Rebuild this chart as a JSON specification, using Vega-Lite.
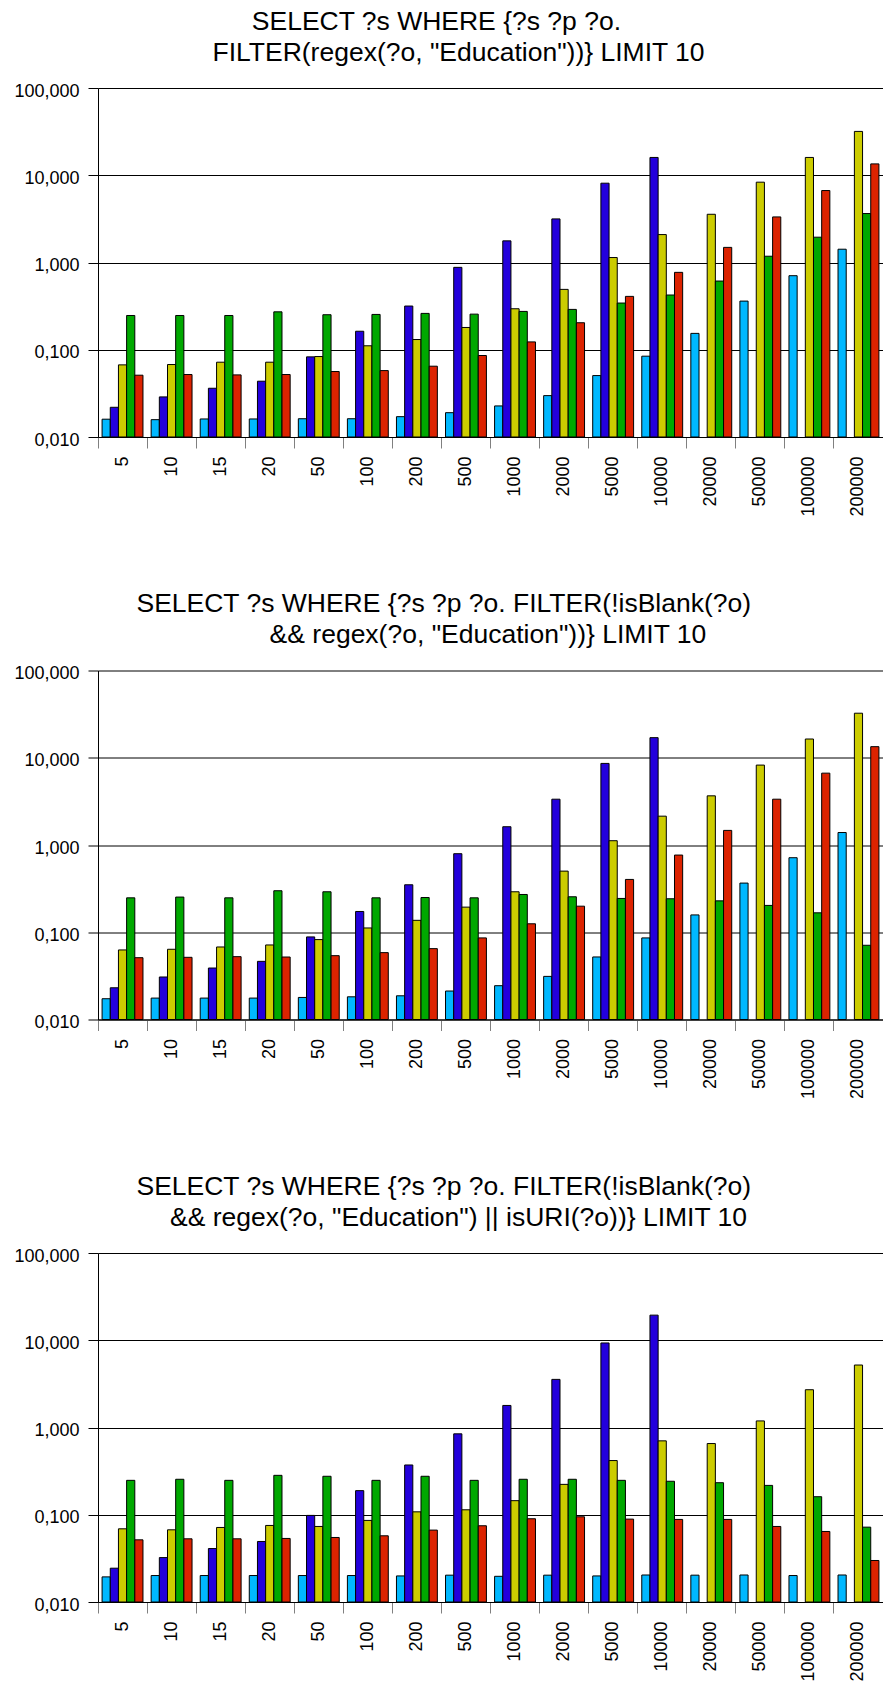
{
  "$schema": "https://vega.github.io/schema/vega-lite/v6.json",
  "padding": {"left": 13, "top": 8, "right": 0, "bottom": 0},
  "background": "white",
  "config": {"view": {"stroke": null}, "font": "Liberation Sans", "title": {"fontSize": 26.5, "fontWeight": "normal", "font": "Liberation Sans", "color": "#000", "anchor": "middle", "frame": "group", "lineHeight": 31, "offset": 16, "dx": -32}},
  "data": {"values": [
    {"p":1,"c":"5","s":"a","v":0.0160},{"p":1,"c":"5","s":"b","v":0.0219},{"p":1,"c":"5","s":"c","v":0.0671},{"p":1,"c":"5","s":"d","v":0.247},{"p":1,"c":"5","s":"e","v":0.0511},
    {"p":1,"c":"10","s":"a","v":0.0158},{"p":1,"c":"10","s":"b","v":0.0288},{"p":1,"c":"10","s":"c","v":0.0677},{"p":1,"c":"10","s":"d","v":0.247},{"p":1,"c":"10","s":"e","v":0.0520},
    {"p":1,"c":"15","s":"a","v":0.0161},{"p":1,"c":"15","s":"b","v":0.0362},{"p":1,"c":"15","s":"c","v":0.0720},{"p":1,"c":"15","s":"d","v":0.247},{"p":1,"c":"15","s":"e","v":0.0515},
    {"p":1,"c":"20","s":"a","v":0.0161},{"p":1,"c":"20","s":"b","v":0.0436},{"p":1,"c":"20","s":"c","v":0.0720},{"p":1,"c":"20","s":"d","v":0.272},{"p":1,"c":"20","s":"e","v":0.0520},
    {"p":1,"c":"50","s":"a","v":0.0162},{"p":1,"c":"50","s":"b","v":0.0829},{"p":1,"c":"50","s":"c","v":0.0836},{"p":1,"c":"50","s":"d","v":0.252},{"p":1,"c":"50","s":"e","v":0.0563},
    {"p":1,"c":"100","s":"a","v":0.0162},{"p":1,"c":"100","s":"b","v":0.163},{"p":1,"c":"100","s":"c","v":0.111},{"p":1,"c":"100","s":"d","v":0.254},{"p":1,"c":"100","s":"e","v":0.0577},
    {"p":1,"c":"200","s":"a","v":0.0171},{"p":1,"c":"200","s":"b","v":0.317},{"p":1,"c":"200","s":"c","v":0.131},{"p":1,"c":"200","s":"d","v":0.261},{"p":1,"c":"200","s":"e","v":0.0648},
    {"p":1,"c":"500","s":"a","v":0.0190},{"p":1,"c":"500","s":"b","v":0.880},{"p":1,"c":"500","s":"c","v":0.180},{"p":1,"c":"500","s":"d","v":0.256},{"p":1,"c":"500","s":"e","v":0.0859},
    {"p":1,"c":"1000","s":"a","v":0.0227},{"p":1,"c":"1000","s":"b","v":1.77},{"p":1,"c":"1000","s":"c","v":0.295},{"p":1,"c":"1000","s":"d","v":0.275},{"p":1,"c":"1000","s":"e","v":0.123},
    {"p":1,"c":"2000","s":"a","v":0.0298},{"p":1,"c":"2000","s":"b","v":3.16},{"p":1,"c":"2000","s":"c","v":0.492},{"p":1,"c":"2000","s":"d","v":0.290},{"p":1,"c":"2000","s":"e","v":0.204},
    {"p":1,"c":"5000","s":"a","v":0.0506},{"p":1,"c":"5000","s":"b","v":8.11},{"p":1,"c":"5000","s":"c","v":1.14},{"p":1,"c":"5000","s":"d","v":0.343},{"p":1,"c":"5000","s":"e","v":0.409},
    {"p":1,"c":"10000","s":"a","v":0.0844},{"p":1,"c":"10000","s":"b","v":16.0},{"p":1,"c":"10000","s":"c","v":2.09},{"p":1,"c":"10000","s":"d","v":0.424},{"p":1,"c":"10000","s":"e","v":0.771},
    {"p":1,"c":"20000","s":"a","v":0.154},{"p":1,"c":"20000","s":"c","v":3.57},{"p":1,"c":"20000","s":"d","v":0.613},{"p":1,"c":"20000","s":"e","v":1.49},
    {"p":1,"c":"50000","s":"a","v":0.361},{"p":1,"c":"50000","s":"c","v":8.33},{"p":1,"c":"50000","s":"d","v":1.18},{"p":1,"c":"50000","s":"e","v":3.33},
    {"p":1,"c":"100000","s":"a","v":0.706},{"p":1,"c":"100000","s":"c","v":16.0},{"p":1,"c":"100000","s":"d","v":1.95},{"p":1,"c":"100000","s":"e","v":6.68},
    {"p":1,"c":"200000","s":"a","v":1.42},{"p":1,"c":"200000","s":"c","v":31.8},{"p":1,"c":"200000","s":"d","v":3.64},{"p":1,"c":"200000","s":"e","v":13.5},

    {"p":2,"c":"5","s":"a","v":0.0173},{"p":2,"c":"5","s":"b","v":0.0231},{"p":2,"c":"5","s":"c","v":0.0627},{"p":2,"c":"5","s":"d","v":0.248},{"p":2,"c":"5","s":"e","v":0.0511},
    {"p":2,"c":"10","s":"a","v":0.0176},{"p":2,"c":"10","s":"b","v":0.0307},{"p":2,"c":"10","s":"c","v":0.0638},{"p":2,"c":"10","s":"d","v":0.253},{"p":2,"c":"10","s":"e","v":0.0516},
    {"p":2,"c":"15","s":"a","v":0.0176},{"p":2,"c":"15","s":"b","v":0.0389},{"p":2,"c":"15","s":"c","v":0.0678},{"p":2,"c":"15","s":"d","v":0.248},{"p":2,"c":"15","s":"e","v":0.0525},
    {"p":2,"c":"20","s":"a","v":0.0176},{"p":2,"c":"20","s":"b","v":0.0464},{"p":2,"c":"20","s":"c","v":0.0715},{"p":2,"c":"20","s":"d","v":0.299},{"p":2,"c":"20","s":"e","v":0.0520},
    {"p":2,"c":"50","s":"a","v":0.0179},{"p":2,"c":"50","s":"b","v":0.0884},{"p":2,"c":"50","s":"c","v":0.0824},{"p":2,"c":"50","s":"d","v":0.291},{"p":2,"c":"50","s":"e","v":0.0539},
    {"p":2,"c":"100","s":"a","v":0.0182},{"p":2,"c":"100","s":"b","v":0.173},{"p":2,"c":"100","s":"c","v":0.112},{"p":2,"c":"100","s":"d","v":0.248},{"p":2,"c":"100","s":"e","v":0.0584},
    {"p":2,"c":"200","s":"a","v":0.0187},{"p":2,"c":"200","s":"b","v":0.350},{"p":2,"c":"200","s":"c","v":0.137},{"p":2,"c":"200","s":"d","v":0.250},{"p":2,"c":"200","s":"e","v":0.0649},
    {"p":2,"c":"500","s":"a","v":0.0212},{"p":2,"c":"500","s":"b","v":0.795},{"p":2,"c":"500","s":"c","v":0.194},{"p":2,"c":"500","s":"d","v":0.248},{"p":2,"c":"500","s":"e","v":0.0861},
    {"p":2,"c":"1000","s":"a","v":0.0244},{"p":2,"c":"1000","s":"b","v":1.62},{"p":2,"c":"1000","s":"c","v":0.291},{"p":2,"c":"1000","s":"d","v":0.271},{"p":2,"c":"1000","s":"e","v":0.125},
    {"p":2,"c":"2000","s":"a","v":0.0312},{"p":2,"c":"2000","s":"b","v":3.35},{"p":2,"c":"2000","s":"c","v":0.502},{"p":2,"c":"2000","s":"d","v":0.255},{"p":2,"c":"2000","s":"e","v":0.199},
    {"p":2,"c":"5000","s":"a","v":0.0521},{"p":2,"c":"5000","s":"b","v":8.61},{"p":2,"c":"5000","s":"c","v":1.12},{"p":2,"c":"5000","s":"d","v":0.244},{"p":2,"c":"5000","s":"e","v":0.403},
    {"p":2,"c":"10000","s":"a","v":0.0861},{"p":2,"c":"10000","s":"b","v":17.0},{"p":2,"c":"10000","s":"c","v":2.14},{"p":2,"c":"10000","s":"d","v":0.242},{"p":2,"c":"10000","s":"e","v":0.767},
    {"p":2,"c":"20000","s":"a","v":0.158},{"p":2,"c":"20000","s":"c","v":3.66},{"p":2,"c":"20000","s":"d","v":0.229},{"p":2,"c":"20000","s":"e","v":1.47},
    {"p":2,"c":"50000","s":"a","v":0.366},{"p":2,"c":"50000","s":"c","v":8.24},{"p":2,"c":"50000","s":"d","v":0.203},{"p":2,"c":"50000","s":"e","v":3.35},
    {"p":2,"c":"100000","s":"a","v":0.715},{"p":2,"c":"100000","s":"c","v":16.4},{"p":2,"c":"100000","s":"d","v":0.167},{"p":2,"c":"100000","s":"e","v":6.66},
    {"p":2,"c":"200000","s":"a","v":1.39},{"p":2,"c":"200000","s":"c","v":32.4},{"p":2,"c":"200000","s":"d","v":0.0709},{"p":2,"c":"200000","s":"e","v":13.4},

    {"p":3,"c":"5","s":"a","v":0.0194},{"p":3,"c":"5","s":"b","v":0.0244},{"p":3,"c":"5","s":"c","v":0.0690},{"p":3,"c":"5","s":"d","v":0.248},{"p":3,"c":"5","s":"e","v":0.0516},
    {"p":3,"c":"10","s":"a","v":0.0201},{"p":3,"c":"10","s":"b","v":0.0323},{"p":3,"c":"10","s":"c","v":0.0672},{"p":3,"c":"10","s":"d","v":0.255},{"p":3,"c":"10","s":"e","v":0.0530},
    {"p":3,"c":"15","s":"a","v":0.0201},{"p":3,"c":"15","s":"b","v":0.0410},{"p":3,"c":"15","s":"c","v":0.0715},{"p":3,"c":"15","s":"d","v":0.248},{"p":3,"c":"15","s":"e","v":0.0530},
    {"p":3,"c":"20","s":"a","v":0.0201},{"p":3,"c":"20","s":"b","v":0.0494},{"p":3,"c":"20","s":"c","v":0.0754},{"p":3,"c":"20","s":"d","v":0.283},{"p":3,"c":"20","s":"e","v":0.0535},
    {"p":3,"c":"50","s":"a","v":0.0201},{"p":3,"c":"50","s":"b","v":0.0983},{"p":3,"c":"50","s":"c","v":0.0734},{"p":3,"c":"50","s":"d","v":0.276},{"p":3,"c":"50","s":"e","v":0.0549},
    {"p":3,"c":"100","s":"a","v":0.0201},{"p":3,"c":"100","s":"b","v":0.189},{"p":3,"c":"100","s":"c","v":0.0861},{"p":3,"c":"100","s":"d","v":0.248},{"p":3,"c":"100","s":"e","v":0.0574},
    {"p":3,"c":"200","s":"a","v":0.0199},{"p":3,"c":"200","s":"b","v":0.372},{"p":3,"c":"200","s":"c","v":0.108},{"p":3,"c":"200","s":"d","v":0.276},{"p":3,"c":"200","s":"e","v":0.0667},
    {"p":3,"c":"500","s":"a","v":0.0203},{"p":3,"c":"500","s":"b","v":0.846},{"p":3,"c":"500","s":"c","v":0.114},{"p":3,"c":"500","s":"d","v":0.248},{"p":3,"c":"500","s":"e","v":0.0748},
    {"p":3,"c":"1000","s":"a","v":0.0197},{"p":3,"c":"1000","s":"b","v":1.79},{"p":3,"c":"1000","s":"c","v":0.145},{"p":3,"c":"1000","s":"d","v":0.255},{"p":3,"c":"1000","s":"e","v":0.0900},
    {"p":3,"c":"2000","s":"a","v":0.0203},{"p":3,"c":"2000","s":"b","v":3.56},{"p":3,"c":"2000","s":"c","v":0.223},{"p":3,"c":"2000","s":"d","v":0.255},{"p":3,"c":"2000","s":"e","v":0.0948},
    {"p":3,"c":"5000","s":"a","v":0.0199},{"p":3,"c":"5000","s":"b","v":9.31},{"p":3,"c":"5000","s":"c","v":0.418},{"p":3,"c":"5000","s":"d","v":0.248},{"p":3,"c":"5000","s":"e","v":0.0891},
    {"p":3,"c":"10000","s":"a","v":0.0204},{"p":3,"c":"10000","s":"b","v":19.4},{"p":3,"c":"10000","s":"c","v":0.703},{"p":3,"c":"10000","s":"d","v":0.242},{"p":3,"c":"10000","s":"e","v":0.0884},
    {"p":3,"c":"20000","s":"a","v":0.0203},{"p":3,"c":"20000","s":"c","v":0.655},{"p":3,"c":"20000","s":"d","v":0.233},{"p":3,"c":"20000","s":"e","v":0.0884},
    {"p":3,"c":"50000","s":"a","v":0.0204},{"p":3,"c":"50000","s":"c","v":1.19},{"p":3,"c":"50000","s":"d","v":0.217},{"p":3,"c":"50000","s":"e","v":0.0734},
    {"p":3,"c":"100000","s":"a","v":0.0201},{"p":3,"c":"100000","s":"c","v":2.71},{"p":3,"c":"100000","s":"d","v":0.161},{"p":3,"c":"100000","s":"e","v":0.0643},
    {"p":3,"c":"200000","s":"a","v":0.0204},{"p":3,"c":"200000","s":"c","v":5.20},{"p":3,"c":"200000","s":"d","v":0.0721},{"p":3,"c":"200000","s":"e","v":0.0299}
  ]},
  "spacing": 233.5,
  "bounds": "flush",
  "vconcat": [
    {
      "title": {"text": ["SELECT ?s WHERE {?s ?p ?o.\u00a0\u00a0\u00a0\u00a0\u00a0\u00a0\u200b", "FILTER(regex(?o, \"Education\"))} LIMIT 10"]},
      "width": 785, "height": 349,
      "transform": [{"filter": "datum.p == 1"}],
      "mark": {"type": "bar", "stroke": "#000", "strokeWidth": 1},
      "encoding": {
        "x": {"field": "c", "type": "nominal", "sort": ["5","10","15","20","50","100","200","500","1000","2000","5000","10000","20000","50000","100000","200000"], "scale": {"paddingInner": 0, "paddingOuter": 0}, "axis": {"title": null, "bandPosition": 0, "labelAngle": -90, "labelAlign": "right", "labelBaseline": "middle", "labelFontSize": 18, "labelColor": "#000", "labelPadding": 8, "tickSize": 11, "tickColor": "#808080", "domainColor": "#000", "grid": false}},
        "xOffset": {"field": "s", "type": "nominal", "sort": ["a","b","c","d","e"], "scale": {"paddingInner": 0, "paddingOuter": 0.5}},
        "y": {"field": "v", "type": "quantitative", "scale": {"type": "log", "domain": [0.01, 100], "nice": false}, "axis": {"title": null, "values": [0.01, 0.1, 1, 10, 100], "labelExpr": "replace(format(datum.value, '.3f'), '.', ',')", "labelFontSize": 18, "labelColor": "#000", "labelPadding": 9, "labelOffset": 3, "tickSize": 10, "tickColor": "#000", "domainColor": "#000", "grid": true, "gridColor": "#000", "gridOpacity": 1}},
        "y2": {"datum": 0.01},
        "color": {"field": "s", "type": "nominal", "scale": {"domain": ["a","b","c","d","e"], "range": ["#00b8ff","#2300dc","#cccc00","#00a800","#dc2300"]}, "legend": null}
      }
    },
    {
      "title": {"text": ["SELECT ?s WHERE {?s ?p ?o. FILTER(!isBlank(?o)\u00a0\u00a0\u00a0\u00a0\u200b", "\u200b\u00a0\u00a0\u00a0\u00a0\u00a0\u00a0\u00a0\u00a0&& regex(?o, \"Education\"))} LIMIT 10"]},
      "width": 785, "height": 349,
      "transform": [{"filter": "datum.p == 2"}],
      "mark": {"type": "bar", "stroke": "#000", "strokeWidth": 1},
      "encoding": {
        "x": {"field": "c", "type": "nominal", "sort": ["5","10","15","20","50","100","200","500","1000","2000","5000","10000","20000","50000","100000","200000"], "scale": {"paddingInner": 0, "paddingOuter": 0}, "axis": {"title": null, "bandPosition": 0, "labelAngle": -90, "labelAlign": "right", "labelBaseline": "middle", "labelFontSize": 18, "labelColor": "#000", "labelPadding": 8, "tickSize": 11, "tickColor": "#808080", "domainColor": "#000", "grid": false}},
        "xOffset": {"field": "s", "type": "nominal", "sort": ["a","b","c","d","e"], "scale": {"paddingInner": 0, "paddingOuter": 0.5}},
        "y": {"field": "v", "type": "quantitative", "scale": {"type": "log", "domain": [0.01, 100], "nice": false}, "axis": {"title": null, "values": [0.01, 0.1, 1, 10, 100], "labelExpr": "replace(format(datum.value, '.3f'), '.', ',')", "labelFontSize": 18, "labelColor": "#000", "labelPadding": 9, "labelOffset": 3, "tickSize": 10, "tickColor": "#000", "domainColor": "#000", "grid": true, "gridColor": "#000", "gridOpacity": 1}},
        "y2": {"datum": 0.01},
        "color": {"field": "s", "type": "nominal", "scale": {"domain": ["a","b","c","d","e"], "range": ["#00b8ff","#2300dc","#cccc00","#00a800","#dc2300"]}, "legend": null}
      }
    },
    {
      "title": {"text": ["SELECT ?s WHERE {?s ?p ?o. FILTER(!isBlank(?o)\u00a0\u00a0\u00a0\u00a0\u200b", "&& regex(?o, \"Education\") || isURI(?o))} LIMIT 10"]},
      "width": 785, "height": 349,
      "transform": [{"filter": "datum.p == 3"}],
      "mark": {"type": "bar", "stroke": "#000", "strokeWidth": 1},
      "encoding": {
        "x": {"field": "c", "type": "nominal", "sort": ["5","10","15","20","50","100","200","500","1000","2000","5000","10000","20000","50000","100000","200000"], "scale": {"paddingInner": 0, "paddingOuter": 0}, "axis": {"title": null, "bandPosition": 0, "labelAngle": -90, "labelAlign": "right", "labelBaseline": "middle", "labelFontSize": 18, "labelColor": "#000", "labelPadding": 8, "tickSize": 11, "tickColor": "#808080", "domainColor": "#000", "grid": false}},
        "xOffset": {"field": "s", "type": "nominal", "sort": ["a","b","c","d","e"], "scale": {"paddingInner": 0, "paddingOuter": 0.5}},
        "y": {"field": "v", "type": "quantitative", "scale": {"type": "log", "domain": [0.01, 100], "nice": false}, "axis": {"title": null, "values": [0.01, 0.1, 1, 10, 100], "labelExpr": "replace(format(datum.value, '.3f'), '.', ',')", "labelFontSize": 18, "labelColor": "#000", "labelPadding": 9, "labelOffset": 3, "tickSize": 10, "tickColor": "#000", "domainColor": "#000", "grid": true, "gridColor": "#000", "gridOpacity": 1}},
        "y2": {"datum": 0.01},
        "color": {"field": "s", "type": "nominal", "scale": {"domain": ["a","b","c","d","e"], "range": ["#00b8ff","#2300dc","#cccc00","#00a800","#dc2300"]}, "legend": null}
      }
    }
  ]
}
